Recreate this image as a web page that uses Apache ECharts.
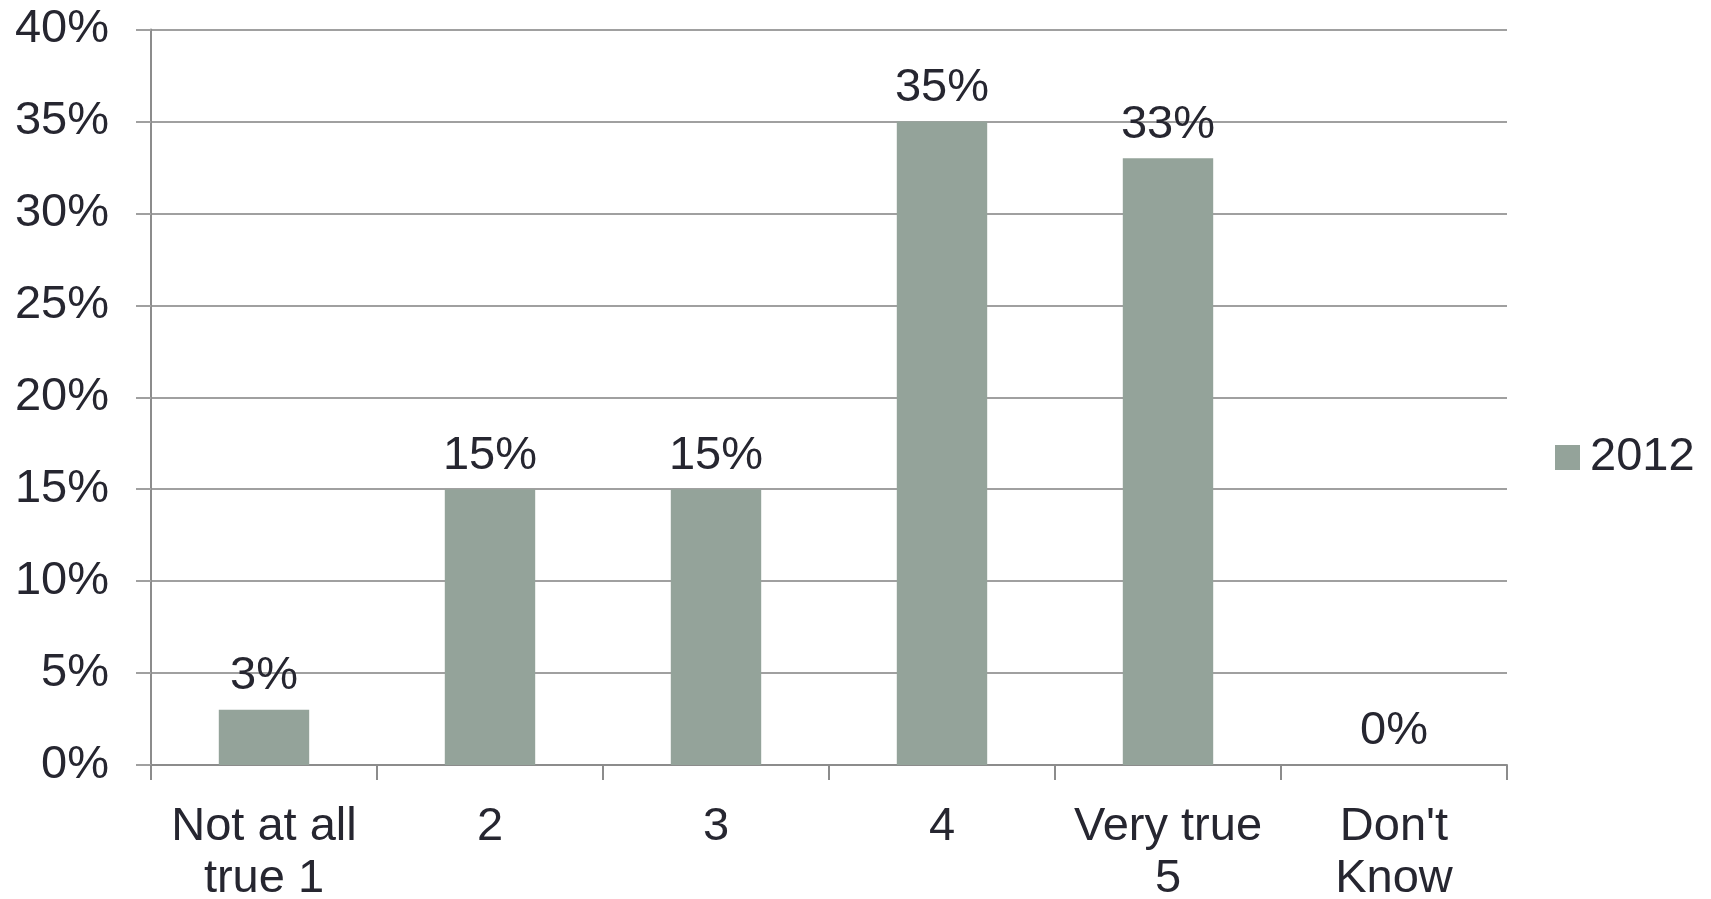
<!DOCTYPE html>
<html>
<head>
<meta charset="utf-8">
<script src="https://cdn.jsdelivr.net/npm/echarts@6/dist/echarts.min.js"></script>
<style>
html,body{margin:0;padding:0;background:#fff;}
#chart{width:1711px;height:899px;}
</style>
</head>
<body>
<div id="chart"></div>
<script>
const categories = ["Not at all\ntrue 1", "2", "3", "4", "Very true\n5", "Don't\nKnow"];
const values2012 = [3, 15, 15, 35, 33, 0];
const seriesName = "2012";
const yTicks = { min: 0, max: 40, interval: 5 };

const textColor = '#262630';
const fontFamily = '"Liberation Sans", Arial, sans-serif';
const fontSize = 47;

const chart = echarts.init(document.getElementById('chart'));
chart.setOption({
  animation: false,
  backgroundColor: '#fff',
  grid: { left: 151, right: 204, top: 29.5, bottom: 134, containLabel: false, outerBoundsMode: 'none' },
  legend: {
    data: [seriesName],
    left: 1550,
    top: 429,
    orient: 'vertical',
    itemWidth: 25,
    itemHeight: 25,
    icon: 'rect',
    textStyle: { color: textColor, fontSize: fontSize, fontFamily: fontFamily, padding: [0, 0, 0, 5] }
  },
  xAxis: {
    type: 'category',
    data: categories,
    axisLine: { show: true, lineStyle: { color: '#8c8c8c', width: 2 } },
    axisTick: { show: true, length: 15, alignWithLabel: false, lineStyle: { color: '#8c8c8c', width: 2 } },
    axisLabel: { color: textColor, fontSize: fontSize, fontFamily: fontFamily, lineHeight: 52, margin: 36, interval: 0 },
    splitLine: { show: false }
  },
  yAxis: {
    type: 'value',
    min: yTicks.min, max: yTicks.max, interval: yTicks.interval,
    axisLine: { show: true, lineStyle: { color: '#8c8c8c', width: 2 } },
    axisTick: { show: true, length: 15, lineStyle: { color: '#a0a0a0', width: 2 } },
    axisLabel: { color: textColor, fontSize: fontSize, fontFamily: fontFamily, margin: 42, formatter: '{value}%' },
    splitLine: { show: true, lineStyle: { color: '#a0a0a0', width: 2 } }
  },
  series: [{
    name: seriesName,
    type: 'bar',
    data: values2012,
    barWidth: '40%',
    itemStyle: { color: '#94a39a' },
    label: {
      show: true,
      position: 'top',
      distance: 10,
      formatter: '{c}%',
      color: textColor,
      fontSize: fontSize,
      fontFamily: fontFamily
    }
  }]
});
</script>
</body>
</html>
